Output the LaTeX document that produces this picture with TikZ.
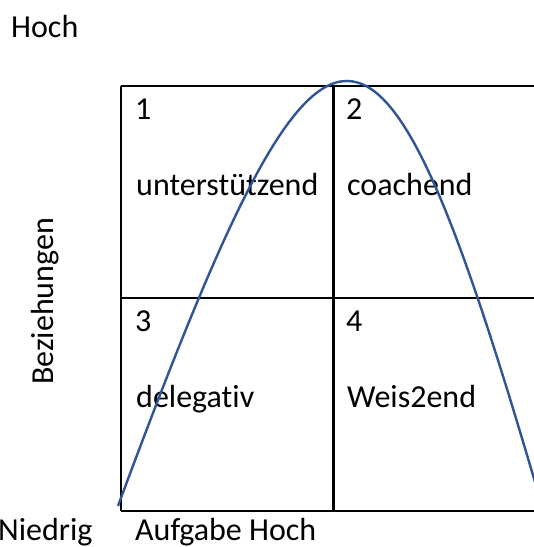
\documentclass[tikz,border=0pt]{standalone}
\usepackage{fontspec}
\setmainfont{Carlito}[Ligatures=NoCommon]
\definecolor{curveblue}{RGB}{47,85,151}
\begin{document}
\begin{tikzpicture}[x=1pt,y=-1pt,
  gridline/.style={line width=2.3pt, black},
  lbl/.style={inner sep=0pt, anchor=base west, font=\fontsize{32}{38}\selectfont},
  arch/.style={line width=2.4pt, curveblue}]
\useasboundingbox (0,0) rectangle (534,547);
\fill[white] (0,0) rectangle (534,547);
% grid
\coordinate (tl) at (121,86);
\coordinate (tm) at (333.5,86);
\coordinate (tr) at (534,86);
\coordinate (ml) at (121,298);
\coordinate (mr) at (534,298);
\coordinate (bl) at (121,511);
\coordinate (bm) at (333.5,511);
\coordinate (br) at (534,511);
\draw[gridline] (tl) -- (tr);
\draw[gridline] (ml) -- (mr);
\draw[gridline] (bl) -- (br);
\draw[gridline] (tl) -- (bl);
\draw[gridline] (tm) -- (bm);
% labels
\node[lbl] (hoch) at (11,37) {Hoch};
\node[lbl] (n1) at (135,119) {1};
\node[lbl] (t1) at (136,195) {unterstützend};
\node[lbl] (n2) at (346,119) {2};
\node[lbl] (t2) at (347,195) {coachend};
\node[lbl] (n3) at (135,331) {3};
\node[lbl] (t3) at (136,407) {delegativ};
\node[lbl] (n4) at (346,331) {4};
\node[lbl] (t4) at (347,407) {Weis2end};
\node[lbl] (niedrig) at (-2,540.5) {Niedrig};
\node[lbl] (aufgabe) at (135,540.5) {Aufgabe Hoch};
\node[lbl, rotate=90] (bez) at (53,385) {Beziehungen};
% curve
\begin{scope}
\clip (0,0) rectangle (534,547);
\draw[arch] (118,506) .. controls (328,-60.7) and (377,-60.7) .. (542,506);
\end{scope}
\end{tikzpicture}
\end{document}
